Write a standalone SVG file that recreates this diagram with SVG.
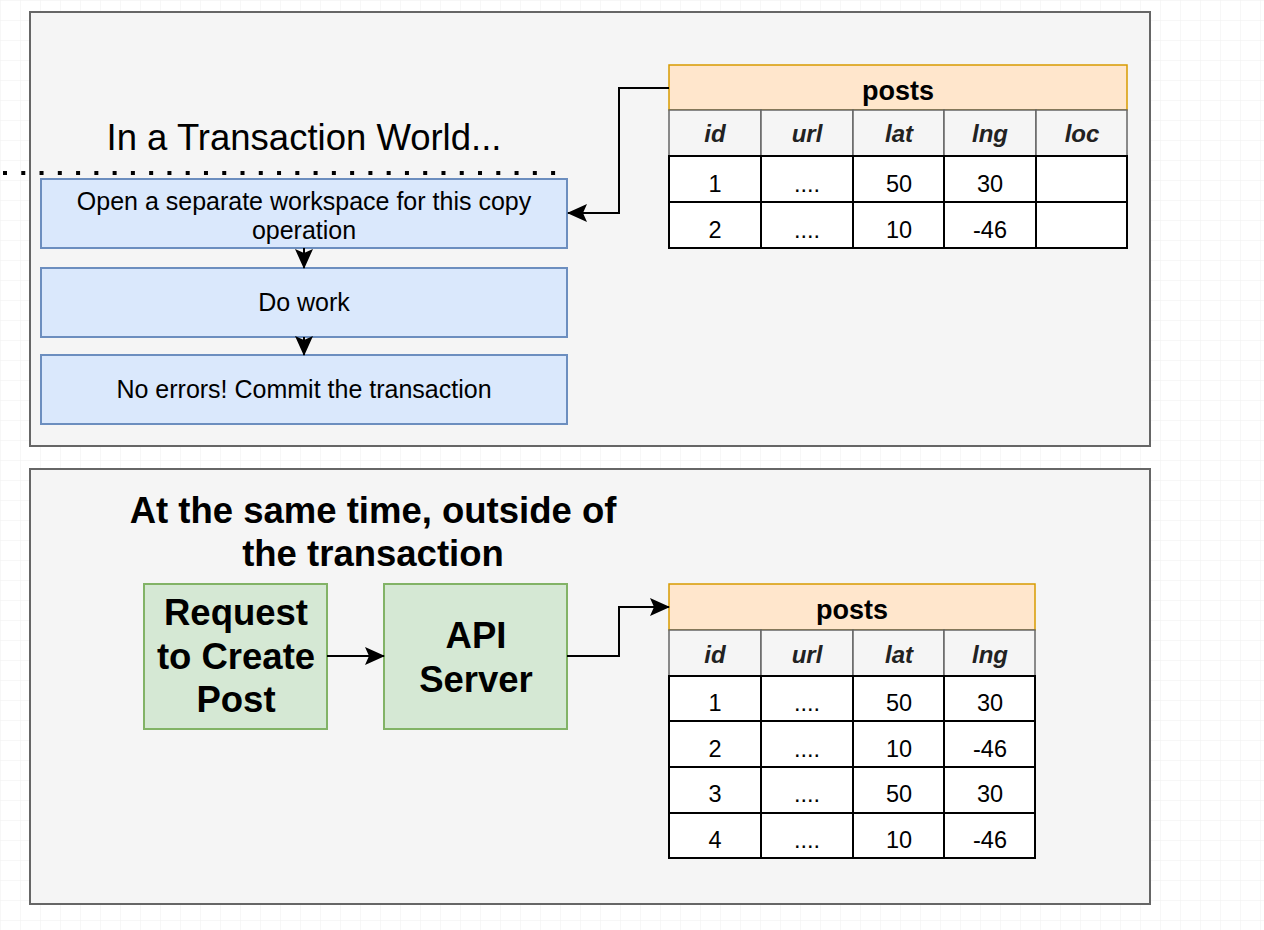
<svg xmlns="http://www.w3.org/2000/svg" width="1264" height="930" viewBox="0 0 1264 930">
<defs>
<pattern id="grid" width="20" height="20" patternUnits="userSpaceOnUse"><path d="M20 0H0V20" fill="none" stroke="#f0f0f0" stroke-width="1"/></pattern>
<marker id="arrb" viewBox="0 0 20 20" refX="19" refY="10" markerWidth="20" markerHeight="20" markerUnits="userSpaceOnUse" orient="auto" overflow="visible"><path d="M0 1L20 10L0 19L4 10Z" fill="#000"/></marker>
</defs>
<style>
text{font-family:"Liberation Sans",Arial,Helvetica,sans-serif;fill:#000;text-anchor:middle}
.panel{fill:#f5f5f5;stroke:#666;stroke-width:2}
.blue{fill:#dae8fc;stroke:#6c8ebf;stroke-width:2}
.green{fill:#d5e8d4;stroke:#82b366;stroke-width:2}
.thead{fill:#ffe6cc;stroke:#d79b00;stroke-width:1.5}
.colh{fill:#f5f5f5;stroke:#666;stroke-width:1.5}
.cell{fill:#fff;stroke:#000;stroke-width:2}
.wire{fill:none;stroke:#000;stroke-width:2}
.t22{font-size:25px}
.tb{font-size:36.5px;font-weight:bold}
.tn{font-size:27px;font-weight:bold}
.th{font-size:24px;font-weight:bold;font-style:italic;fill:#222}
.td{font-size:23.5px}
</style>
<rect width="1264" height="930" fill="#fff"/>
<rect width="1264" height="930" fill="url(#grid)"/>

<g id="panel-top"><rect class="panel" x="30" y="12" width="1120" height="434"/></g>
<g id="panel-bottom"><rect class="panel" x="30" y="469" width="1120" height="435"/></g>

<g id="title-top"><text x="304" y="150" style="font-size:36.5px">In a Transaction World...</text></g>
<g id="dotted-line"><line x1="3" y1="173" x2="560" y2="173" stroke="#000" stroke-width="4" stroke-dasharray="4 14.27"/></g>

<g id="step-open"><rect class="blue" x="41" y="179" width="526" height="69"/>
<text class="t22" x="304" y="210">Open a separate workspace for this copy</text>
<text class="t22" x="304" y="239">operation</text></g>
<g id="step-work"><rect class="blue" x="41" y="268" width="526" height="69"/>
<text class="t22" x="304" y="311">Do work</text></g>
<g id="step-commit"><rect class="blue" x="41" y="355" width="526" height="69"/>
<text class="t22" x="304" y="398">No errors! Commit the transaction</text></g>

<g id="table-top">
<rect class="thead" x="669" y="65" width="458" height="45"/>
<text class="tn" x="898" y="100">posts</text>
<rect class="colh" x="669" y="110" width="92" height="46"/>
<rect class="colh" x="761" y="110" width="92" height="46"/>
<rect class="colh" x="853" y="110" width="91" height="46"/>
<rect class="colh" x="944" y="110" width="92" height="46"/>
<rect class="colh" x="1036" y="110" width="91" height="46"/>
<text class="th" x="715" y="142">id</text><text class="th" x="807" y="142">url</text><text class="th" x="899" y="142">lat</text><text class="th" x="990" y="142">lng</text><text class="th" x="1082" y="142">loc</text>
<rect class="cell" x="669" y="156" width="92" height="46"/><rect class="cell" x="761" y="156" width="92" height="46"/><rect class="cell" x="853" y="156" width="91" height="46"/><rect class="cell" x="944" y="156" width="92" height="46"/><rect class="cell" x="1036" y="156" width="91" height="46"/>
<rect class="cell" x="669" y="202" width="92" height="46"/><rect class="cell" x="761" y="202" width="92" height="46"/><rect class="cell" x="853" y="202" width="91" height="46"/><rect class="cell" x="944" y="202" width="92" height="46"/><rect class="cell" x="1036" y="202" width="91" height="46"/>
<text class="td" x="715" y="192">1</text><text class="td" x="807" y="192">....</text><text class="td" x="899" y="192">50</text><text class="td" x="990" y="192">30</text>
<text class="td" x="715" y="238">2</text><text class="td" x="807" y="238">....</text><text class="td" x="899" y="238">10</text><text class="td" x="990" y="238">-46</text>
</g>

<g id="title-bottom"><text class="tb" x="373" y="523">At the same time, outside of</text><text class="tb" x="373" y="566">the transaction</text></g>

<g id="node-request"><rect class="green" x="144" y="584" width="183" height="145"/>
<text class="tb" x="236" y="625">Request</text><text class="tb" x="236" y="669">to Create</text><text class="tb" x="236" y="712">Post</text></g>
<g id="node-api"><rect class="green" x="384" y="584" width="183" height="145"/>
<text class="tb" x="476" y="648">API</text><text class="tb" x="476" y="692">Server</text></g>

<g id="table-bottom">
<rect class="thead" x="669" y="584" width="366" height="46"/>
<text class="tn" x="852" y="619">posts</text>
<rect class="colh" x="669" y="630" width="92" height="46"/><rect class="colh" x="761" y="630" width="92" height="46"/><rect class="colh" x="853" y="630" width="91" height="46"/><rect class="colh" x="944" y="630" width="91" height="46"/>
<text class="th" x="715" y="663">id</text><text class="th" x="807" y="663">url</text><text class="th" x="899" y="663">lat</text><text class="th" x="990" y="663">lng</text>
<rect class="cell" x="669" y="676" width="92" height="45"/><rect class="cell" x="761" y="676" width="92" height="45"/><rect class="cell" x="853" y="676" width="91" height="45"/><rect class="cell" x="944" y="676" width="91" height="45"/>
<rect class="cell" x="669" y="721" width="92" height="46"/><rect class="cell" x="761" y="721" width="92" height="46"/><rect class="cell" x="853" y="721" width="91" height="46"/><rect class="cell" x="944" y="721" width="91" height="46"/>
<rect class="cell" x="669" y="767" width="92" height="46"/><rect class="cell" x="761" y="767" width="92" height="46"/><rect class="cell" x="853" y="767" width="91" height="46"/><rect class="cell" x="944" y="767" width="91" height="46"/>
<rect class="cell" x="669" y="813" width="92" height="45"/><rect class="cell" x="761" y="813" width="92" height="45"/><rect class="cell" x="853" y="813" width="91" height="45"/><rect class="cell" x="944" y="813" width="91" height="45"/>
<text class="td" x="715" y="711">1</text><text class="td" x="807" y="711">....</text><text class="td" x="899" y="711">50</text><text class="td" x="990" y="711">30</text>
<text class="td" x="715" y="757">2</text><text class="td" x="807" y="757">....</text><text class="td" x="899" y="757">10</text><text class="td" x="990" y="757">-46</text>
<text class="td" x="715" y="802">3</text><text class="td" x="807" y="802">....</text><text class="td" x="899" y="802">50</text><text class="td" x="990" y="802">30</text>
<text class="td" x="715" y="848">4</text><text class="td" x="807" y="848">....</text><text class="td" x="899" y="848">10</text><text class="td" x="990" y="848">-46</text>
</g>

<g id="connectors">
<path class="wire" d="M669 88H619V213H568" marker-end="url(#arrb)"/>
<path class="wire" d="M304 248V268" marker-end="url(#arrb)"/>
<path class="wire" d="M304 337V355" marker-end="url(#arrb)"/>
<path class="wire" d="M327 656H384" marker-end="url(#arrb)"/>
<path class="wire" d="M567 656H619V607H669" marker-end="url(#arrb)"/>
</g>
</svg>
